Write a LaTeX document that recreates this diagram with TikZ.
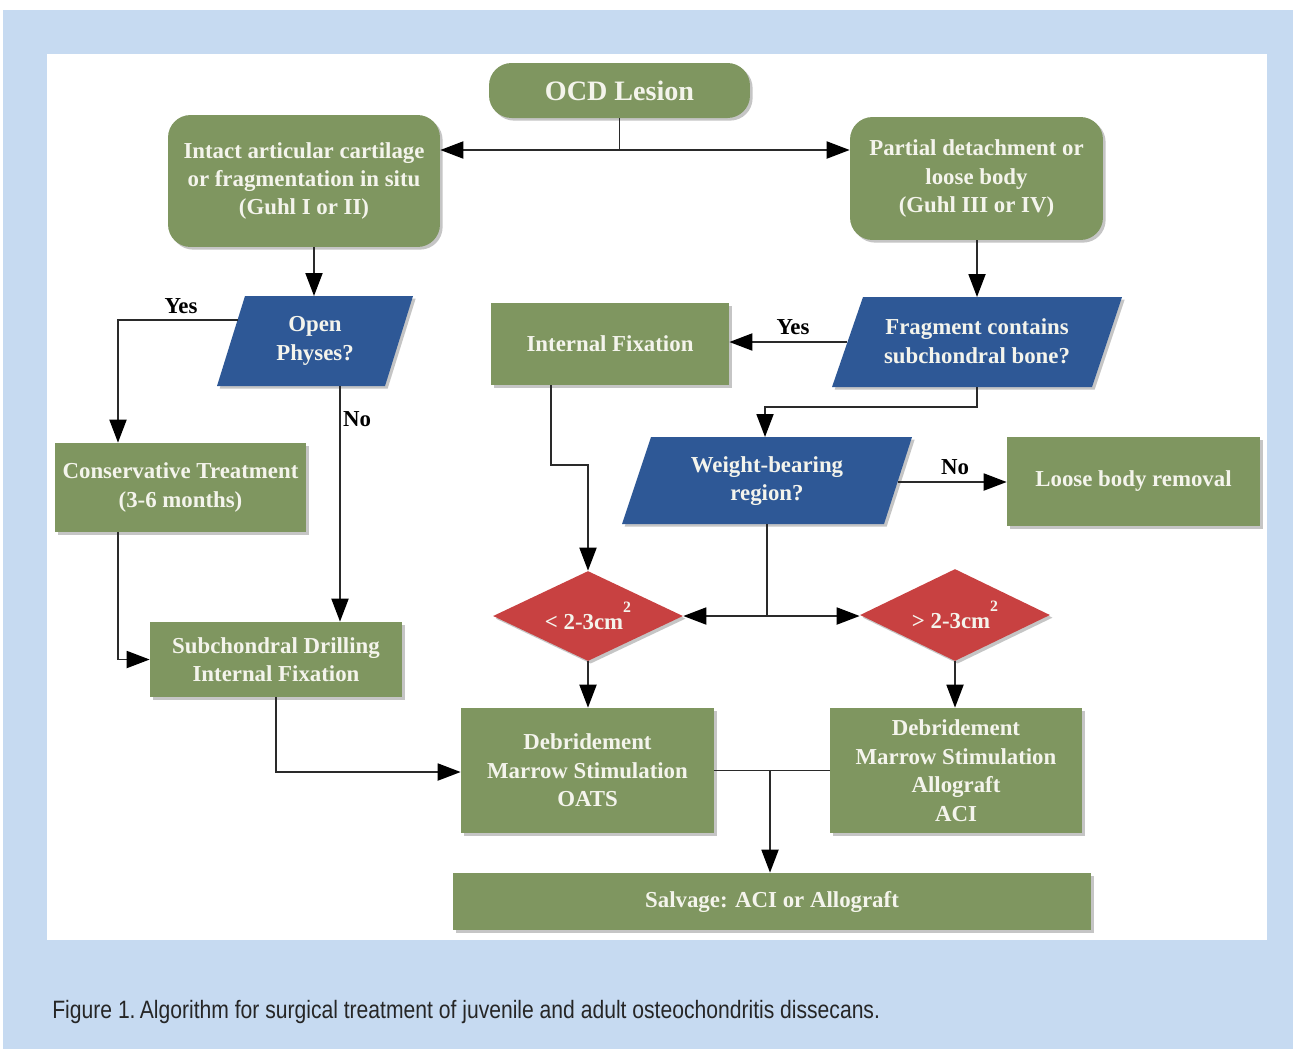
\documentclass[tikz,border=0pt]{standalone}
\usepackage{fontspec}
\setmainfont{Liberation Serif}
\newfontfamily\capfont[FakeStretch=0.84]{Liberation Sans}
\usetikzlibrary{shapes.geometric,arrows.meta,shadows}
\definecolor{bgblue}{HTML}{C6DAF1}
\definecolor{boxgreen}{HTML}{7F9660}
\definecolor{parblue}{HTML}{2E5896}
\definecolor{diared}{HTML}{C84141}
\definecolor{txtwhite}{HTML}{F4F4EC}
\definecolor{linegray}{HTML}{2A2A2A}
\tikzset{
  shad/.style={drop shadow={opacity=0.45,shadow xshift=1.5pt,shadow yshift=-1.5pt}},
  gbox/.style={shad,fill=boxgreen,text=txtwhite,font=\fontsize{13}{16.2}\selectfont\bfseries,align=center,inner sep=0pt},
  rbox/.style={gbox,rounded corners=0.45cm},
  ptext/.style={text=txtwhite,font=\fontsize{13}{16.2}\selectfont\bfseries,align=center,inner sep=0pt},
  pshape/.style={shad,fill=parblue},
  dshape/.style={shad,fill=diared,diamond,aspect=2,inner sep=0pt,text=txtwhite,font=\fontsize{13}{16.2}\selectfont\bfseries},
  lab/.style={font=\fontsize{13}{16}\selectfont\bfseries,text=black,inner sep=0pt},
  conn/.style={draw=linegray,line width=1.1pt},
  arr/.style={conn,-{Triangle[length=0.46cm,width=0.34cm,color=black]}},
}
\begin{document}
\begin{tikzpicture}[x=0.02cm,y=-0.02cm]
\useasboundingbox (0,0) rectangle (1293,1049);
\fill[white] (0,0) rectangle (1293,1049);
\fill[bgblue] (3,10) rectangle (1293,1049);
\fill[white] (47,54) rectangle (1267,940);

% rounded boxes
\node[rbox,minimum width=5.22cm,minimum height=1.10cm,font=\fontsize{16}{18}\selectfont\bfseries] (ocd) at (619.5,90.5) {OCD Lesion};
\node[rbox,minimum width=5.44cm,minimum height=2.64cm] (intact) at (304,181) {Intact articular cartilage\\or fragmentation in situ\\(Guhl I or II)};
\node[rbox,minimum width=5.06cm,minimum height=2.46cm] (partial) at (976.5,178.5) {Partial detachment or\\loose body\\(Guhl III or IV)};

% rectangular boxes
\node[gbox,minimum width=4.76cm,minimum height=1.64cm] (intfix) at (610,344) {Internal Fixation};
\node[gbox,minimum width=5.02cm,minimum height=1.78cm] (cons) at (180.5,487.5) {Conservative Treatment\\(3-6 months)};
\node[gbox,minimum width=5.04cm,minimum height=1.50cm] (subch) at (276,659.5) {Subchondral Drilling\\Internal Fixation};
\node[gbox,minimum width=5.06cm,minimum height=1.78cm] (loose) at (1133.5,481.5) {Loose body removal};
\node[gbox,minimum width=5.06cm,minimum height=2.50cm] (oats) at (587.5,770.5) {Debridement\\Marrow Stimulation\\OATS};
\node[gbox,minimum width=5.04cm,minimum height=2.50cm] (aci) at (956,770.5) {Debridement\\Marrow Stimulation\\Allograft\\ACI};
\node[gbox,minimum width=12.76cm,minimum height=1.14cm] (salv) at (772,901.5) {Salvage: ACI or Allograft};

% parallelograms
\coordinate (opTL) at (245,296); \coordinate (opTR) at (413,296);
\coordinate (opBR) at (385,386); \coordinate (opBL) at (217,386);
\fill[pshape] (opTL) -- (opTR) -- (opBR) -- (opBL) -- cycle;
\node[ptext] (open) at (315,341) {Open\\Physes?};

\coordinate (frTL) at (863,297); \coordinate (frTR) at (1122,297);
\coordinate (frBR) at (1092,387); \coordinate (frBL) at (832,387);
\fill[pshape] (frTL) -- (frTR) -- (frBR) -- (frBL) -- cycle;
\node[ptext] (frag) at (977,341) {Fragment contains\\subchondral bone?};

\coordinate (wbTL) at (651,437); \coordinate (wbTR) at (912,437);
\coordinate (wbBR) at (884,524); \coordinate (wbBL) at (622,524);
\fill[pshape] (wbTL) -- (wbTR) -- (wbBR) -- (wbBL) -- cycle;
\node[ptext] (weight) at (767,481) {Weight-bearing\\region?};

% diamonds
\node[dshape,minimum width=3.8cm,minimum height=1.8cm] (lt) at (588,616) {{<} 2-3cm\raisebox{1.6ex}{\fontsize{9}{9}\selectfont 2}};
\node[dshape,minimum width=3.8cm,minimum height=1.84cm] (gt) at (955,615) {{>} 2-3cm\raisebox{1.6ex}{\fontsize{9}{9}\selectfont 2}};

% connectors
\coordinate (j1) at (619.5,150);
\draw[conn] (ocd.south) -- (j1);
\draw[arr] (j1) -- (j1 -| intact.east);
\draw[arr] (j1) -- (j1 -| partial.west);

\coordinate (opTop) at (314,296);
\draw[arr] (intact.south -| opTop) -- (opTop);

\coordinate (opL) at (238,320);
\coordinate (yes1) at (118,320);
\draw[arr] (opL) -- (yes1) -- (yes1 |- cons.north);
\node[lab] at (181,306) {Yes};

\coordinate (opB) at (340,386);
\draw[arr] (opB) -- (opB |- subch.north);
\node[lab] at (357,419) {No};

\coordinate (c1) at (118,659.5);
\draw[arr] (cons.south -| c1) -- (c1) -- (subch.west);

\coordinate (c2) at (276,772);
\draw[arr] (subch.south) -- (c2) -- (c2 -| oats.west);

\coordinate (frTop) at (977,297);
\draw[arr] (partial.south -| frTop) -- (frTop);

\coordinate (frL) at (847,342);
\draw[arr] (frL) -- (frL -| intfix.east);
\node[lab] at (793,327) {Yes};

\coordinate (frB) at (977,387);
\coordinate (f1) at (977,407);
\coordinate (f2) at (765,407);
\coordinate (wbTop) at (765,437);
\draw[arr] (frB) -- (f1) -- (f2) -- (wbTop);

\coordinate (wbR) at (898,482);
\draw[arr] (wbR) -- (wbR -| loose.west);
\node[lab] at (955,467) {No};

\coordinate (wbB) at (767,524);
\coordinate (w1) at (767,616);
\draw[conn] (wbB) -- (w1);
\draw[arr] (w1) -- (lt.east);
\draw[arr] (w1) -- (w1 -| gt.west);

\coordinate (i1) at (551,465);
\coordinate (i2) at (588,465);
\draw[arr] (intfix.south -| i1) -- (i1) -- (i2) -- (lt.north);

\draw[arr] (lt.south) -- (oats.north -| lt.south);
\draw[arr] (gt.south) -- (aci.north -| gt.south);

\coordinate (s1) at (770,770.5);
\draw[conn] (oats.east) -- (aci.west);
\draw[arr] (s1) -- (s1 |- salv.north);

% caption
\node[anchor=base west,inner sep=0pt,font=\capfont\fontsize{14.3}{16}\selectfont,text=black!85] (cap) at (52,1018) {Figure 1.\,Algorithm for surgical treatment of juvenile and adult osteochondritis dissecans.};
\end{tikzpicture}
\end{document}
